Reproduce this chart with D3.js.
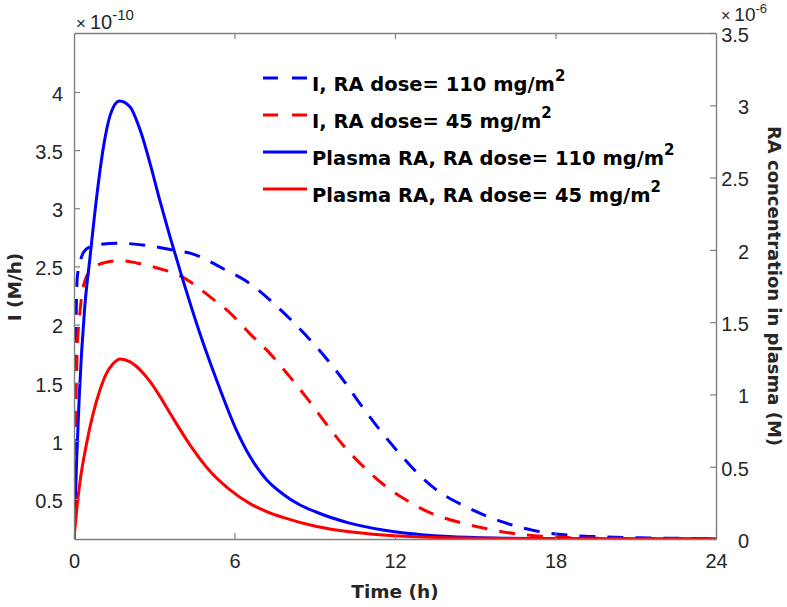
<!DOCTYPE html>
<html>
<head>
<meta charset="utf-8">
<script src="https://d3js.org/d3.v7.min.js"></script>
<style>
  body { margin: 0; background: #fff; }
</style>
</head>
<body>
<div id="chart"></div>
<script>
// values
// time (h)
var timeTicks = [0, 6, 12, 18, 24];
var leftTicks = [0.5, 1, 1.5, 2, 2.5, 3, 3.5, 4];          // I, x 1e-10 M/h
var rightTicks = [0, 0.5, 1, 1.5, 2, 2.5, 3, 3.5];         // plasma RA, x 1e-6 M

// I (M/h) x 1e-10, RA dose 110 mg/m2
var tI110 = [0, 0.02, 0.045, 0.075, 0.12, 0.22, 0.35, 0.6, 1.0, 1.6, 2.72, 3.71, 4.4, 4.83, 5.58, 6.46, 7.33, 8.07, 8.82, 9.57, 10.2, 10.69, 11.38, 12.06, 12.81, 13.43, 14.68, 15.93, 17.17, 18.42, 19.66, 21.5, 24];
var I110 = [0.156, 0.8, 1.5, 2.0, 2.4, 2.53, 2.62, 2.67, 2.69, 2.70, 2.68, 2.64, 2.61, 2.57, 2.48, 2.37, 2.21, 2.05, 1.87, 1.67, 1.48, 1.32, 1.11, 0.92, 0.73, 0.60, 0.43, 0.31, 0.23, 0.19, 0.175, 0.165, 0.16];

// I (M/h) x 1e-10, RA dose 45 mg/m2
var tI45 = [0, 0.037, 0.075, 0.12, 0.22, 0.41, 0.7, 1.1, 1.72, 2.34, 3.21, 3.96, 4.46, 5.08, 5.83, 6.58, 7.33, 8.07, 8.7, 9.45, 10.07, 10.81, 11.59, 12.5, 13.43, 14.4, 15.3, 16.55, 17.79, 19, 24];
var I45 = [0.156, 0.9, 1.35, 1.78, 2.1, 2.38, 2.48, 2.53, 2.55, 2.53, 2.48, 2.42, 2.35, 2.24, 2.10, 1.92, 1.75, 1.55, 1.37, 1.14, 0.96, 0.78, 0.62, 0.48, 0.37, 0.3, 0.25, 0.2, 0.175, 0.165, 0.158];

// plasma RA (M) x 1e-6, RA dose 110 mg/m2
var tP110 = [0, 0.1, 0.2, 0.4, 0.6, 0.85, 1.1, 1.35, 1.7, 2.09, 2.47, 2.84, 3.21, 3.59, 3.96, 4.71, 5.33, 6.08, 6.58, 7.2, 7.82, 8.4, 9.07, 10.3, 11.55, 12.2, 13, 14, 16, 18, 20, 24];
var P110 = [0, 0.55, 1.0, 1.6, 1.95, 2.37, 2.71, 2.93, 3.03, 2.99, 2.83, 2.6, 2.34, 2.09, 1.86, 1.42, 1.1, 0.75, 0.57, 0.41, 0.31, 0.24, 0.185, 0.11, 0.062, 0.045, 0.03, 0.017, 0.006, 0.002, 0.0007, 0];

// plasma RA (M) x 1e-6, RA dose 45 mg/m2
var tP45 = [0, 0.1, 0.22, 0.47, 0.72, 0.97, 1.2, 1.45, 1.72, 2.1, 2.47, 2.84, 3.2, 3.59, 4.34, 5.08, 5.83, 6.58, 7.2, 7.81, 9.07, 10.3, 11.55, 13, 15, 18, 24];
var P45 = [0, 0.2, 0.39, 0.66, 0.87, 1.03, 1.14, 1.21, 1.245, 1.225, 1.17, 1.09, 0.99, 0.87, 0.65, 0.47, 0.34, 0.245, 0.19, 0.15, 0.087, 0.05, 0.028, 0.014, 0.005, 0.001, 0];

var legendLabels = ["I, RA dose= 110 mg/m", "I, RA dose= 45 mg/m", "Plasma RA, RA dose= 110 mg/m", "Plasma RA, RA dose= 45 mg/m"];

// dimensions
var margin = { top: 33, right: 71, bottom: 68, left: 74 },
    width = 787 - margin.left - margin.right,
    height = 607 - margin.top - margin.bottom;

var svg = d3.select("#chart")
    .append("svg")
    .attr("width", 787)
    .attr("height", 607)
    .style("font-family", "'Liberation Sans', Arial, sans-serif");

var g = svg.append("g")
    .attr("transform", "translate(" + margin.left + "," + margin.top + ")");

// scales
var x = d3.scaleLinear().domain([0, 24]).range([0, width]);
var yL = d3.scaleLinear().domain([0.156, 4.507]).range([height, 0]);
var yR = d3.scaleLinear().domain([0, 3.5]).range([height, 0]);

g.append("clipPath").attr("id", "plotclip")
    .append("rect").attr("width", width).attr("height", height);

// lines
var lineL = d3.line().x(function (d) { return x(d[0]); }).y(function (d) { return yL(d[1]); }).curve(d3.curveMonotoneX);
var lineR = d3.line().x(function (d) { return x(d[0]); }).y(function (d) { return yR(d[1]); }).curve(d3.curveMonotoneX);

var series = [
    { t: tI110, v: I110, line: lineL, color: "#0000ff", dash: "16,12" },
    { t: tI45, v: I45, line: lineL, color: "#ff0000", dash: "16,12" },
    { t: tP110, v: P110, line: lineR, color: "#0000ff", dash: null },
    { t: tP45, v: P45, line: lineR, color: "#ff0000", dash: null }
];

var plot = g.append("g").attr("clip-path", "url(#plotclip)");
series.forEach(function (s) {
    var pts = s.t.map(function (t, i) { return [t, s.v[i]]; });
    plot.append("path")
        .datum(pts)
        .attr("d", s.line)
        .attr("fill", "none")
        .attr("stroke", s.color)
        .attr("stroke-width", 3)
        .attr("stroke-dasharray", s.dash);
});

// axes (ticks point inward, like matlab)
var axisColor = "#808080", textColor = "#262626";

function styleAxis(sel) {
    sel.selectAll("path.domain").attr("stroke", axisColor).attr("stroke-width", 1.4);
    sel.selectAll(".tick line").attr("stroke", axisColor).attr("stroke-width", 1.2);
    sel.selectAll(".tick text").attr("fill", textColor).style("font-size", "20px")
        .style("font-family", "'Liberation Sans', Arial, sans-serif");
}

g.append("g")
    .attr("transform", "translate(0," + height + ")")
    .call(d3.axisBottom(x).tickValues(timeTicks).tickSizeInner(-6).tickSizeOuter(0).tickPadding(15))
    .call(styleAxis);

g.append("g")
    .call(d3.axisTop(x).tickValues([6, 12, 18]).tickSizeInner(-6).tickSizeOuter(0).tickFormat(""))
    .call(styleAxis);

var left = g.append("g")
    .call(d3.axisLeft(yL).tickValues(leftTicks).tickSizeInner(-6).tickSizeOuter(0).tickPadding(11).tickFormat(d3.format("~g")))
    .call(styleAxis);
left.selectAll(".tick text").attr("dy", "0.42em");

var right = g.append("g")
    .attr("transform", "translate(" + width + ",0)")
    .call(d3.axisRight(yR).tickValues(rightTicks).tickSizeInner(-6).tickSizeOuter(0).tickFormat(d3.format("~g")))
    .call(styleAxis);
right.selectAll(".tick text").attr("text-anchor", "end").attr("x", 33).attr("dy", "0.42em");

// exponent labels
var expL = svg.append("text").attr("x", 76).attr("y", 29).attr("fill", textColor).style("font-size", "20px");
expL.append("tspan").style("font-size", "17px").text("\u00d7");
expL.append("tspan").attr("dx", 4).text("10");
expL.append("tspan").attr("dy", -9).style("font-size", "15px").text("-10");

var expR = svg.append("text").attr("x", 721).attr("y", 21).attr("fill", textColor).style("font-size", "19px");
expR.append("tspan").style("font-size", "16px").text("\u00d7");
expR.append("tspan").attr("dx", 4).text("10");
expR.append("tspan").attr("dy", -8).style("font-size", "13px").text("-6");

// axis titles
var boldFont = "'DejaVu Sans', Verdana, sans-serif";

svg.append("text")
    .attr("x", margin.left + width / 2)
    .attr("y", 598)
    .attr("text-anchor", "middle")
    .style("font-family", boldFont)
    .style("font-weight", "bold")
    .style("font-size", "18.5px")
    .attr("fill", textColor)
    .text("Time (h)");

svg.append("text")
    .attr("transform", "translate(21,287) rotate(-90)")
    .attr("text-anchor", "middle")
    .style("font-family", boldFont)
    .style("font-weight", "bold")
    .style("font-size", "18.5px")
    .attr("fill", textColor)
    .text("I (M/h)");

svg.append("text")
    .attr("transform", "translate(768,286) rotate(90)")
    .attr("text-anchor", "middle")
    .style("font-family", boldFont)
    .style("font-weight", "bold")
    .style("font-size", "18px")
    .attr("fill", textColor)
    .text("RA concentration in plasma (M)");

// legend
var rowY = [78, 115, 152, 189];
var legend = svg.append("g");
series.forEach(function (s, i) {
    legend.append("line")
        .attr("x1", 263).attr("x2", 307)
        .attr("y1", rowY[i]).attr("y2", rowY[i])
        .attr("stroke", s.color)
        .attr("stroke-width", 3)
        .attr("stroke-dasharray", s.dash ? "15,14" : null);
    var t = legend.append("text")
        .attr("x", 312)
        .attr("y", rowY[i] + 13)
        .style("font-family", boldFont)
        .style("font-weight", "bold")
        .style("font-size", "19.5px")
        .attr("fill", "#000");
    t.append("tspan").text(legendLabels[i]);
    t.append("tspan").attr("dy", -10).style("font-size", "15px").text("2");
});
</script>
</body>
</html>
